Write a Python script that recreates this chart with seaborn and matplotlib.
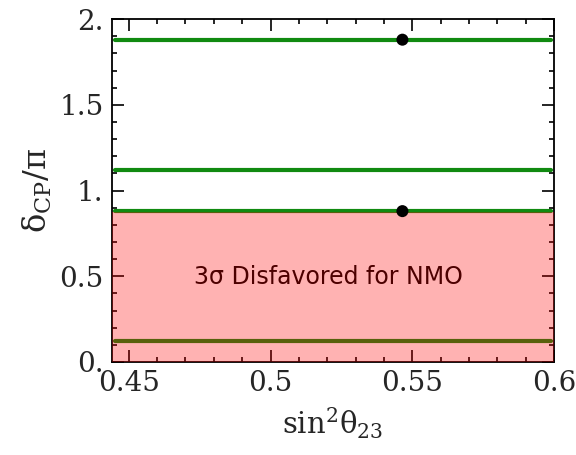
import numpy as np
import pandas as pd
import matplotlib
matplotlib.use("Agg")
import matplotlib.pyplot as plt
import seaborn as sns
from matplotlib.ticker import FixedLocator, FixedFormatter, MultipleLocator

# Allowed delta_CP/pi solutions (horizontal bands across the theta_23 range)
delta_levels = [0.12, 0.88, 1.12, 1.88]
theta_span = [0.445, 0.599]

# Best-fit points
best_x = [0.5465, 0.5465]
best_y = [1.88, 0.88]

# Excluded region for normal mass ordering
excl_low, excl_high = 0.0, 0.875

xticks = [0.45, 0.5, 0.55, 0.6]
xtick_labels = ["0.45", "0.5", "0.55", "0.6"]
yticks = [0.0, 0.5, 1.0, 1.5, 2.0]
ytick_labels = ["0.", "0.5", "1.", "1.5", "2."]

lines_df = pd.DataFrame(
    [(x, d, i) for i, d in enumerate(delta_levels) for x in theta_span],
    columns=["s23", "dcp", "sol"],
)
best_df = pd.DataFrame({"s23": best_x, "dcp": best_y})

sns.set_style("ticks")
plt.rcParams["font.family"] = ["DejaVu Serif"]
plt.rcParams["mathtext.fontset"] = "dejavuserif"

fig = plt.figure(figsize=(5.76, 4.55), dpi=100)
ax = fig.add_axes([0.194, 0.2044, 0.768, 0.7536])

sns.lineplot(
    data=lines_df, x="s23", y="dcp", units="sol", estimator=None,
    color="#118a11", linewidth=3.0, solid_capstyle="round", ax=ax, zorder=2,
)
ax.axhspan(excl_low, excl_high, color="red", alpha=0.3, lw=0, zorder=3)
ax.text(0.5205, 0.495, "3σ Disfavored for NMO", ha="center", va="center",
        fontsize=17, family="DejaVu Sans", color="black", zorder=2)
sns.scatterplot(data=best_df, x="s23", y="dcp", color="black", s=75,
                edgecolor="none", ax=ax, zorder=4)

ax.set_xlim(0.444, 0.6)
ax.set_ylim(0, 2)
ax.xaxis.set_major_locator(FixedLocator(xticks))
ax.xaxis.set_major_formatter(FixedFormatter(xtick_labels))
ax.yaxis.set_major_locator(FixedLocator(yticks))
ax.yaxis.set_major_formatter(FixedFormatter(ytick_labels))
ax.xaxis.set_minor_locator(MultipleLocator(0.01))
ax.yaxis.set_minor_locator(MultipleLocator(0.1))
ax.tick_params(which="both", direction="in", top=True, right=True,
               width=1.2, labelsize=20, color="black")
ax.tick_params(which="major", length=8.5, pad=6)
ax.tick_params(which="minor", length=3.8)
for sp in ax.spines.values():
    sp.set_linewidth(1.3)
    sp.set_color("black")

ax.set_xlabel(r"sin$^2$θ$_{23}$", fontsize=21, labelpad=6)
ax.set_ylabel(r"δ$_{\rm CP}$/π", fontsize=23, labelpad=4)

fig.savefig("out.png", dpi=100)
